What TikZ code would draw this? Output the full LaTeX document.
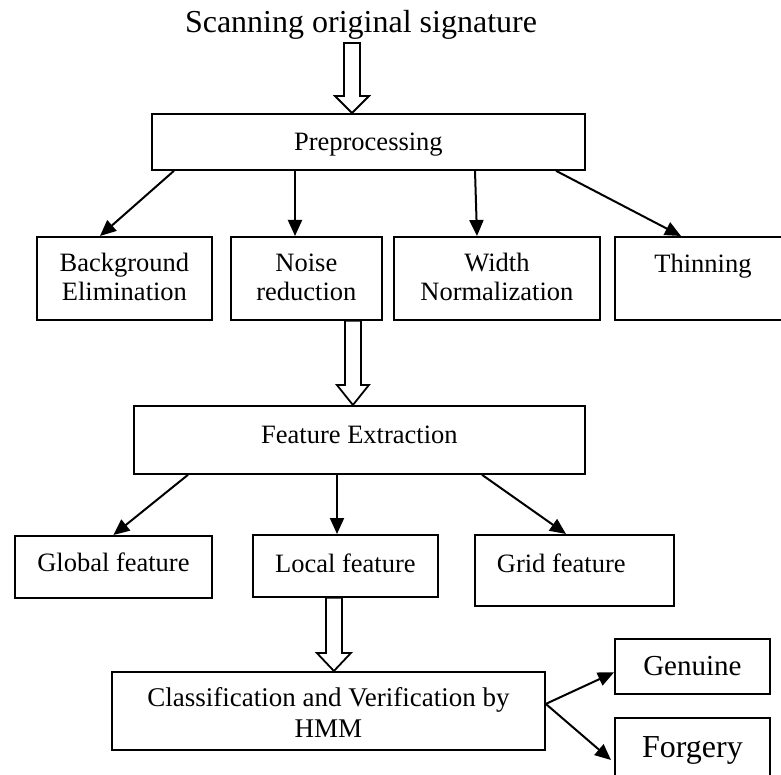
\documentclass[tikz,border=0pt]{standalone}
\usepackage{fontspec}
\setmainfont{Liberation Serif}
\usetikzlibrary{arrows.meta,calc}

\tikzset{
  box/.style={draw, line width=1.8pt, inner sep=0pt, anchor=north west, align=center,
    font=\fontsize{26.5}{29}\selectfont},
  arr/.style={line width=2pt, -{Triangle[length=16pt,width=14pt]}},
  hollow/.style={draw, line width=1.8pt, fill=white, line join=miter},
}

\begin{document}
\begin{tikzpicture}[x=1pt,y=-1pt]
    \useasboundingbox (0,0) rectangle (781,775);
    \clip (0,0) rectangle (781,775);
    % Title
    \node[anchor=base, font=\fontsize{32}{36}\selectfont] (scan) at (361,33) {Scanning original signature};
    % Preprocessing
    \node[box, minimum width=433pt, text height=37pt, text depth=19pt] (pre) at (151,113) {Preprocessing};
    \node[box, minimum width=175pt, text height=64pt, text depth=19pt] (bg) at (36,236) {Background\\Elimination};
    \node[box, minimum width=151pt, text height=64pt, text depth=19pt] (noise) at (230,236) {Noise\\reduction};
    \node[box, minimum width=206pt, text height=64pt, text depth=19pt] (width) at (393,236) {Width\\Normalization};
    \node[box, minimum width=176pt, text height=36pt, text depth=47pt] (thin) at (614,236) {Thinning};
    % Feature extraction
    \node[box, minimum width=451pt, text height=38pt, text depth=30pt] (fe) at (133,405) {Feature Extraction};
    \node[box, minimum width=197pt, text height=36pt, text depth=26pt] (glob) at (14,535) {Global feature};
    \node[box, align=flush left, text width=155pt, inner xsep=22pt, text height=38pt, text depth=33pt] (grid) at (474,534) {Grid feature};
    \node[box, minimum width=185pt, text height=38pt, text depth=24pt] (loc) at (252,534) {Local feature};
    % Classification
    \node[box, minimum width=433pt, text height=66pt, text depth=12pt, font=\fontsize{27}{31}\selectfont] (cls) at (111,671) {Classification and Verification by\\HMM};
    \node[box, minimum width=155pt, text height=37pt, text depth=18pt, font=\fontsize{29}{33}\selectfont] (gen) at (614,638) {Genuine};
    \node[box, minimum width=155pt, text height=40pt, text depth=33pt, font=\fontsize{32}{36}\selectfont] (forg) at (614,717) {Forgery};
    % Hollow arrows
    \coordinate (s1) at (352,43);
    \coordinate (s2) at ([xshift=46.5pt]noise.south);
    \coordinate (s3) at ([xshift=-11.5pt]loc.south);
    \draw[hollow] ($(s1)+(-8,0)$) -- ($(s1 |- pre.north)+(-8,-17)$) -- ++(-9,0) -- (s1 |- pre.north)
        -- ++(17,-17) -- ++(-9,0) -- ($(s1)+(8,0)$) -- cycle;
    \draw[hollow] ($(s2)+(-8,0)$) -- ($(s2 |- fe.north)+(-8,-20)$) -- ++(-8,0) -- (s2 |- fe.north)
        -- ++(16,-20) -- ++(-8,0) -- ($(s2)+(8,0)$) -- cycle;
    \draw[hollow] ($(s3)+(-8,0)$) -- ($(s3 |- cls.north)+(-8,-18)$) -- ++(-9,0) -- (s3 |- cls.north)
        -- ++(17,-18) -- ++(-9,0) -- ($(s3)+(8,0)$) -- cycle;
    % Arrows
    \draw[arr] ([xshift=23pt]pre.south west) -- ([xshift=64pt]bg.north west);
    \draw[arr] ([xshift=144pt]pre.south west) -- ([xshift=65pt]noise.north west);
    \draw[arr] ([xshift=324pt]pre.south west) -- ([xshift=84pt]width.north west);
    \draw[arr] ([xshift=405pt]pre.south west) -- ([xshift=67pt]thin.north west);
    \draw[arr] ([xshift=55pt]fe.south west) -- (glob.north);
    \draw[arr] ([xshift=204pt]fe.south west) -- ([xshift=85pt]loc.north west);
    \draw[arr] ([xshift=349pt]fe.south west) -- ([xshift=92pt]grid.north west);
    \draw[arr] ([yshift=7pt]cls.east) -- ([yshift=-6pt]gen.west);
    \draw[arr] ([yshift=7pt]cls.east) -- ([shift={(-3pt,-43pt)}]forg.north west);
\end{tikzpicture}
\end{document}
